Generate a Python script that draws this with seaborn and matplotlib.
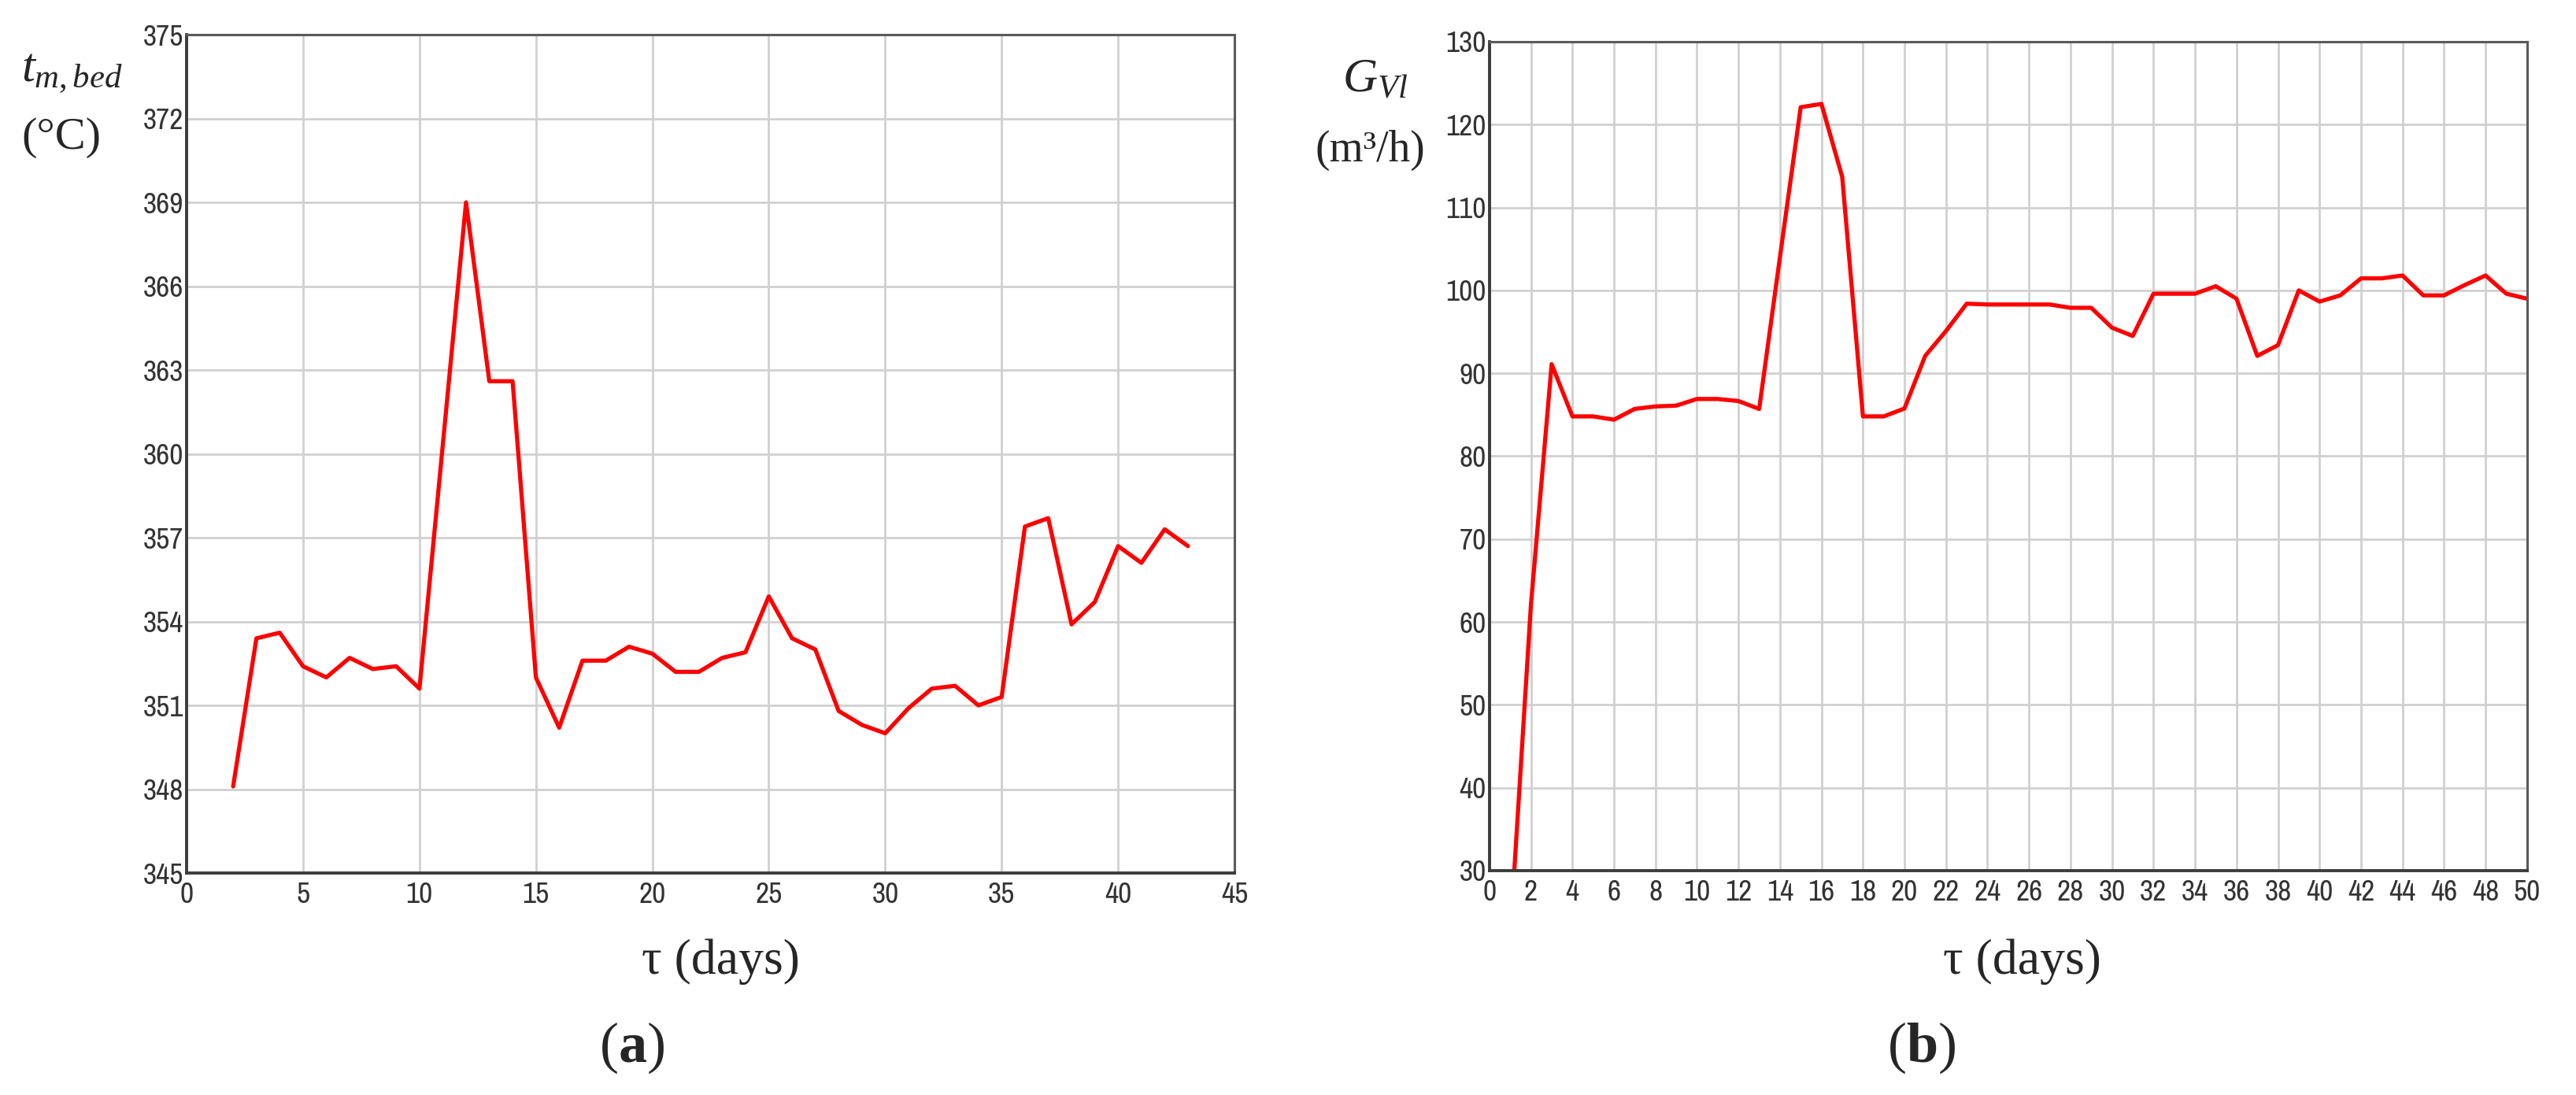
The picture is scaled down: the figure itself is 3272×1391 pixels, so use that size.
import numpy as np
import pandas as pd
import matplotlib
matplotlib.use("Agg")
import matplotlib.pyplot as plt
from matplotlib import font_manager
import seaborn as sns

# ---------- Data ----------
days_a = [2, 3, 4, 5, 6, 7, 8, 9, 10, 11, 12, 13, 14, 15, 16, 17, 18, 19, 20, 21, 22,
          23, 24, 25, 26, 27, 28, 29, 30, 31, 32, 33, 34, 35, 36, 37, 38, 39, 40, 41, 42, 43]
t_bed = [348.1, 353.4, 353.6, 352.4, 352.0, 352.7, 352.3, 352.4, 351.6, 360.3, 369.0,
         362.6, 362.6, 352.0, 350.2, 352.6, 352.6, 353.1, 352.85, 352.2, 352.2,
         352.7, 352.9, 354.9, 353.4, 353.0, 350.8, 350.3, 350.0, 350.9, 351.6, 351.7,
         351.0, 351.3, 357.4, 357.7, 353.9, 354.7, 356.7, 356.1, 357.3, 356.7]

days_b = list(range(1, 51))
g_vl = [22, 62, 91.1, 84.8, 84.8, 84.4, 85.7, 86.0, 86.1, 86.9, 86.9, 86.65, 85.7,
        104, 122.1, 122.5, 113.7, 84.8, 84.8, 85.75, 92.1, 95.1, 98.4, 98.3, 98.3,
        98.3, 98.3, 97.9, 97.9, 95.5, 94.5, 99.6, 99.6, 99.6, 100.5, 99.0, 92.1,
        93.4, 100.0, 98.65, 99.4, 101.45, 101.45, 101.8, 99.4, 99.4, 100.65, 101.8,
        99.6, 99.0]

xticks_a = list(range(0, 46, 5))
yticks_a = list(range(345, 376, 3))
xticks_b = list(range(0, 51, 2))
yticks_b = list(range(30, 131, 10))

# ---------- Style ----------
sns.set_style("white")
plt.rcParams["font.family"] = ["Liberation Serif", "DejaVu Serif"]
plt.rcParams["mathtext.fontset"] = "custom"
plt.rcParams["mathtext.rm"] = "Liberation Serif"
plt.rcParams["mathtext.it"] = "Liberation Serif:italic"
plt.rcParams["mathtext.bf"] = "Liberation Serif:bold"

GRID = "#d0d0d0"


def narrow_tick_font(size):
    # tick labels in the original are a tall, narrow sans face
    fonts = font_manager.fontManager.ttflist
    prefs = []
    for f in fonts:
        if f.style != "normal" or f.weight not in (400, "normal", "regular"):
            continue
        if "Narrow" in f.name:
            prefs.append((0, f))
        elif f.stretch in ("condensed", "semi-condensed", "extra-condensed") or "Condensed" in f.name:
            prefs.append((1, f))
    if prefs:
        prefs.sort(key=lambda p: p[0])
        return font_manager.FontProperties(fname=prefs[0][1].fname, size=size)
    return font_manager.FontProperties(family="DejaVu Sans", size=size - 3)


TICK_FP = narrow_tick_font(27)


def style_axes(ax, xticks, yticks, xlim, ylim):
    ax.set_xlim(*xlim)
    ax.set_ylim(*ylim)
    ax.set_xticks(xticks)
    ax.set_yticks(yticks)
    ax.grid(True, color=GRID, linewidth=2.0, zorder=0)
    ax.set_axisbelow(True)
    ax.tick_params(length=0, colors="#333333")
    ax.tick_params(axis="y", pad=3)
    ax.tick_params(axis="x", pad=8)
    for lab in ax.get_xticklabels() + ax.get_yticklabels():
        lab.set_fontproperties(TICK_FP)
    for side in ["left", "bottom"]:
        ax.spines[side].set_color("#3c3c3c")
        ax.spines[side].set_linewidth(2.8)
    for side in ["top", "right"]:
        ax.spines[side].set_color("#5a5a5a")
        ax.spines[side].set_linewidth(2.2)
    ax.set_xlabel("")
    ax.set_ylabel("")


fig = plt.figure(figsize=(32.73, 13.91), dpi=100)
ax_a = fig.add_axes([0.0724, 0.2027, 0.4067, 0.7656])
ax_b = fig.add_axes([0.5780, 0.2049, 0.4027, 0.7570])

df_a = pd.DataFrame({"day": days_a, "t": t_bed})
df_b = pd.DataFrame({"day": days_b, "g": g_vl})

sns.lineplot(data=df_a, x="day", y="t", ax=ax_a, color="#ff0000", linewidth=3.8)
sns.lineplot(data=df_b, x="day", y="g", ax=ax_b, color="#ff0000", linewidth=3.8)

style_axes(ax_a, xticks_a, yticks_a, (0, 45), (345, 375))
style_axes(ax_b, xticks_b, yticks_b, (0, 50), (30, 130))

# ---------- Labels ----------
fig.text(0.0083, 0.933, r"$t_{m,bed}$", fontsize=44, ha="left", va="center")
fig.text(0.0083, 0.874, "(°C)", fontsize=42, ha="left", va="center")
fig.text(0.5210, 0.927, r"$G_{Vl}$", fontsize=44, ha="left", va="center")
fig.text(0.5530, 0.863, "(m³/h)", fontsize=40, ha="right", va="center")

fig.text(0.2796, 0.1215, "τ (days)", fontsize=46, ha="center", va="center")
fig.text(0.7846, 0.1215, "τ (days)", fontsize=46, ha="center", va="center")
fig.text(0.2453, 0.0431, r"($\mathbf{a}$)", fontsize=52, ha="center", va="center")
fig.text(0.7458, 0.0431, r"($\mathbf{b}$)", fontsize=52, ha="center", va="center")

fig.savefig("out.png", dpi=100)
